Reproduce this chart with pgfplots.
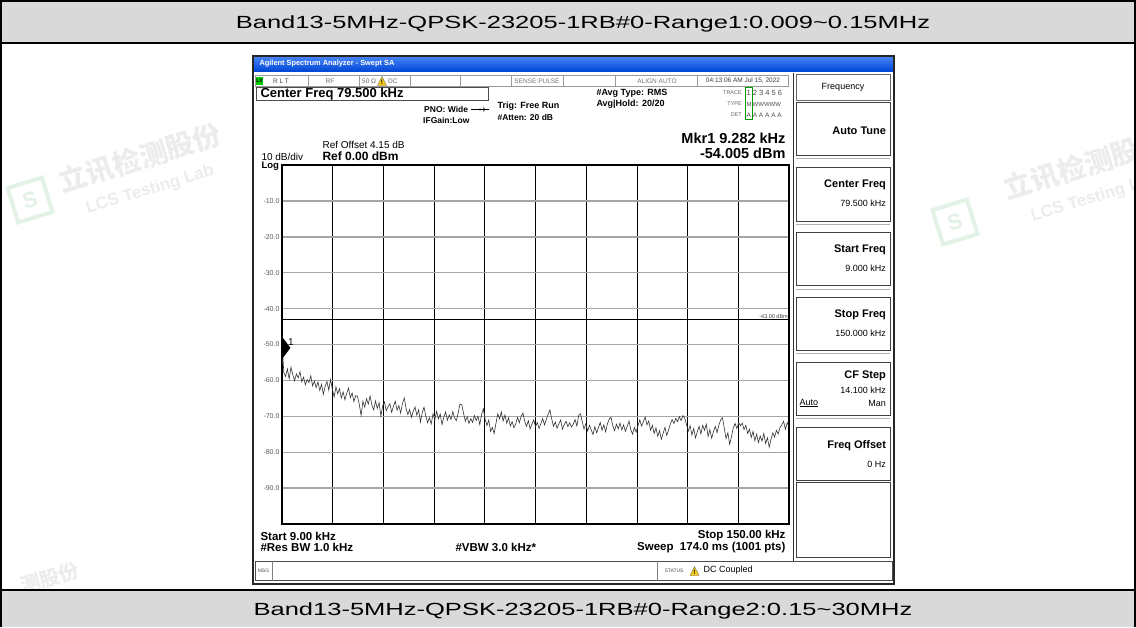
\documentclass[border=0pt]{standalone}
\usepackage{pgfplots}
\pgfplotsset{compat=1.18}
\usepackage{fontspec}
\setmainfont{Liberation Sans}
\newfontfamily\cjk{Noto Sans CJK SC}
\definecolor{hdr}{RGB}{217,217,217}
\definecolor{xpblueA}{RGB}{70,130,245}
\definecolor{xpblueB}{RGB}{0,72,215}
\definecolor{gridgray}{RGB}{165,165,165}
\definecolor{wm}{RGB}{236,236,236}
\definecolor{wmg}{RGB}{226,242,231}
\definecolor{warn}{RGB}{250,205,20}
\newcommand{\fs}[1]{\fontsize{#1}{#1}\selectfont}
\newcommand{\warntri}[2]{\fill[warn,draw=black!60,line width=0.3pt] (#1,#2) -- ++(4.5,-9) -- ++(4.5,9) -- cycle; \node[font=\bfseries\fs{6.5}] at (#1+4.5,#2-3.5) {!};}

\begin{document}
\begin{tikzpicture}
\begin{scope}[x=1pt,y=-1pt]
\path[use as bounding box] (0,0) rectangle (1136,627);
% ---------- table ----------
\fill[hdr] (0,0) rectangle (1136,43);
\fill[hdr] (0,590) rectangle (1136,627);
% ---------- watermarks ----------
\node[rotate=17,text=wm,font=\cjk\bfseries\fs{28}] at (140,158) {立讯检测股份};
\node[rotate=17,text=wm,font=\bfseries\fs{17}] at (150,190) {LCS Testing Lab};
\draw[wmg,line width=4pt,rotate around={17:(30,200)}] (12,182) rectangle (48,218);
\node[rotate=17,text=wmg,font=\bfseries\fs{22}] at (30,200) {S};
\node[rotate=17,text=wm,font=\cjk\bfseries\fs{28}] at (1085,165) {立讯检测股份};
\node[rotate=17,text=wm,font=\bfseries\fs{17}] at (1095,198) {LCS Testing Lab};
\draw[wmg,line width=4pt,rotate around={17:(955,222)}] (937,204) rectangle (973,240);
\node[rotate=17,text=wmg,font=\bfseries\fs{22}] at (955,222) {S};
\node[rotate=17,text=wm,font=\cjk\bfseries\fs{20}] at (50,578) {测股份};
\fill[hdr] (0,590) rectangle (1136,627);
\draw[line width=2pt] (1,627) -- (1,1) -- (1135,1) -- (1135,627);
\draw[line width=1.5pt] (0,43) -- (1136,43);
\draw[line width=1.5pt] (0,590) -- (1136,590);
\node[anchor=base] at (583,28.5) {\scalebox{1.45}[1]{\fs{17.6}Band13-5MHz-QPSK-23205-1RB\#0-Range1:0.009\textasciitilde0.15MHz}};
\node[anchor=base] at (583,615.5) {\scalebox{1.45}[1]{\fs{17.6}Band13-5MHz-QPSK-23205-1RB\#0-Range2:0.15\textasciitilde30MHz}};
% ---------- analyser window ----------
\fill[white] (253,56) rectangle (894,584);
\shade[top color=xpblueA,bottom color=xpblueB] (254,57) rectangle (893,71);
\node[anchor=west,text=white,font=\bfseries\fs{7.4}] at (256,64) {Agilent Spectrum Analyzer - Swept SA};
% status row
\draw[black!40,line width=0.5pt] (255,75.5) rectangle (788,86.5);
\foreach \xx in {308,359,410,460,511,563,615,697} {\draw[black!40,line width=0.5pt] (\xx,75.5) -- (\xx,86.5);}
\fill[green!80!black] (256,77) rectangle (263,85);
\node[font=\bfseries\fs{5}] at (259.5,81) {LX};
\node[font=\fs{6.5},text=black!75] at (281,81) {R L T};
\node[font=\fs{6.5},text=black!60] at (330,81) {RF};
\node[font=\fs{6.5},text=black!60,anchor=west,inner sep=0pt] at (362,81) {50 Ω};
\warntri{377.5}{85.5}
\node[font=\fs{6.5},text=black!60,anchor=west,inner sep=0pt] at (388,81) {DC};
\node[font=\fs{6.5},text=black!55] at (537,81) {SENSE:PULSE};
\node[font=\fs{6.5},text=black!55] at (657,81) {ALIGN AUTO};
\node[font=\fs{6.5},text=black!75] at (743,81) {04:13:06 AM Jul 15, 2022};
% center freq box
\draw[black!70,line width=0.6pt] (256,87.5) rectangle (488,100.5);
\node[anchor=west,font=\bfseries\fs{13}] at (257,94.5) {Center Freq 79.500 kHz};
\node[anchor=west,font=\bfseries\fs{8.5},inner sep=0pt] at (424,109.5) {PNO: Wide};
\draw[line width=0.6pt] (471,109.5) -- (489,109.5); \fill (480,109.5) circle (1.2); \draw[line width=0.6pt] (483,107.5) -- (485,109.5) -- (483,111.5);
\node[anchor=west,font=\bfseries\fs{8.5},inner sep=0pt] at (423,120) {IFGain:Low};
\node[anchor=west,font=\bfseries\fs{9}] at (494,106) {Trig: Free Run};
\node[anchor=west,font=\bfseries\fs{8.5}] at (494,117.5) {\#Atten: 20 dB};
\node[anchor=west,font=\bfseries\fs{9}] at (593,93.5) {\#Avg Type: RMS};
\node[anchor=west,font=\bfseries\fs{9}] at (593,104) {Avg|Hold: 20/20};
\node[anchor=east,font=\fs{5.5},text=black!60,inner sep=1pt] at (743,93) {TRACE};
\node[anchor=east,font=\fs{5.5},text=black!60,inner sep=1pt] at (743,104) {TYPE};
\node[anchor=east,font=\fs{5.5},text=black!60,inner sep=1pt] at (743,115) {DET};
\draw[green!60!black,line width=0.5pt] (745,87.5) rectangle (752.5,119);
\node[anchor=west,font=\fs{7.5},text=black!70,inner sep=0pt] at (746.5,93) {1 2 3 4 5 6};
\node[anchor=west,font=\fs{6},text=black!70,inner sep=0pt] at (746.5,104) {M\,WWWWW};
\node[anchor=west,font=\fs{6.5},text=black!70,inner sep=0pt] at (746.5,115) {A A A A A A};
\node[anchor=west,font=\fs{10}] at (319,144.5) {Ref Offset 4.15 dB};
\node[anchor=base west,font=\bfseries\fs{12}] at (319,160.5) {Ref 0.00 dBm};
\node[anchor=base west,font=\fs{10}] at (258,160.5) {10 dB/div};
\node[anchor=base west,font=\bfseries\fs{9.5}] at (258,168.5) {Log};
\node[anchor=east,font=\bfseries\fs{14.5}] at (789,138) {Mkr1 9.282 kHz};
\node[anchor=east,font=\bfseries\fs{14.5}] at (789,153.5) {-54.005 dBm};
% bottom texts
\node[anchor=west,font=\bfseries\fs{11.5}] at (257,536) {Start 9.00 kHz};
\node[anchor=west,font=\bfseries\fs{11.5}] at (257,547.5) {\#Res BW 1.0 kHz};
\node[anchor=west,font=\bfseries\fs{11.5}] at (452,547.5) {\#VBW 3.0 kHz*};
\node[anchor=east,font=\bfseries\fs{11.5}] at (789,536) {Stop 150.00 kHz};
\node[anchor=east,font=\bfseries\fs{11.5}] at (789,547.5) {Sweep\ \ 174.0 ms (1001 pts)};
% msg row
\draw[black!70,line width=0.7pt] (255,561) rectangle (892,580.5);
\draw[black!50,line width=0.5pt] (272,561) -- (272,580.5);
\draw[black!50,line width=0.5pt] (657,561) -- (657,580.5);
\node[font=\fs{5},text=black!70] at (263.5,570.5) {MSG};
\node[font=\fs{5},text=black!70] at (674,570.5) {STATUS};
\warntri{690}{575.5}
\node[anchor=west,font=\fs{9}] at (700,570.5) {DC Coupled};
% right soft-key panel
\draw[black!80,line width=1pt] (793.5,73) -- (793.5,561);
\draw[black!60,line width=0.7pt] (796,74) rectangle (890,100);
\node[font=\fs{9}] at (843,87) {Frequency};
\foreach \ya/\yb in {102/155,167/221,232/285,297/350,362/415,427/480,482/557} {
  \draw[black!75,line width=0.8pt] (796,\ya) rectangle (890,\yb);
}
\foreach \yy in {158,224,289,353,418} {\draw[black!30,line width=0.5pt] (796,\yy) -- (890,\yy);}
\node[anchor=east,font=\bfseries\fs{11}] at (889.5,131) {Auto Tune};
\node[anchor=east,font=\bfseries\fs{11}] at (889.5,185) {Center Freq};
\node[anchor=east,font=\fs{9}] at (889.5,203.5) {79.500 kHz};
\node[anchor=east,font=\bfseries\fs{11}] at (889.5,250) {Start Freq};
\node[anchor=east,font=\fs{9}] at (889.5,268.5) {9.000 kHz};
\node[anchor=east,font=\bfseries\fs{11}] at (889.5,315) {Stop Freq};
\node[anchor=east,font=\fs{9}] at (889.5,333.5) {150.000 kHz};
\node[anchor=east,font=\bfseries\fs{11}] at (889.5,376) {CF Step};
\node[anchor=east,font=\fs{9}] at (889.5,390) {14.100 kHz};
\node[anchor=west,font=\fs{9}] at (796,403) {\underline{Auto}};
\node[anchor=east,font=\fs{9}] at (889.5,403) {Man};
\node[anchor=east,font=\bfseries\fs{11}] at (889.5,446) {Freq Offset};
\node[anchor=east,font=\fs{9}] at (889.5,464.5) {0 Hz};
% window frame
\draw[black!85,line width=2.5pt] (253,56) rectangle (894,584);
\end{scope}

\begin{axis}[
  at={(282pt,-524pt)}, anchor=south west,
  width=507pt, height=359pt, scale only axis,
  xmin=9, xmax=150, ymin=-100, ymax=0,
  xtick={9,23.1,37.2,51.3,65.4,79.5,93.6,107.7,121.8,135.9,150},
  xticklabels={},
  ytick={-100,-90,-80,-70,-60,-50,-40,-30,-20,-10,0},
  yticklabels={,-90.0,-80.0,-70.0,-60.0,-50.0,-40.0,-30.0,-20.0,-10.0,},
  /pgf/number format/assume math mode=true,
  yticklabel style={font=\fs{7}, text=black!65, xshift=1pt},
  grid=major,
  major x grid style={black, line width=0.7pt},
  major y grid style={gridgray, line width=1.4pt},
  major tick length=0pt,
  axis line style={black, line width=1.6pt},
  clip marker paths=true,
]
\addplot[black, line width=0.6pt, forget plot] coordinates {(9,-43) (150,-43)};
\addplot[black!80, line width=0.6pt, mark=none] coordinates {
(9,-55.5)(9.282,-54.0)(9.5,-57.8)(10,-58.9)(10.5,-56.8)(11,-59.6)(11.5,-56.3)(12,-58.4)(12.5,-60.1)(13,-58.2)(13.5,-59.3)(14,-57.6)(14.5,-60.4)(15,-59.1)(15.5,-61.2)(16,-59.8)(16.5,-60.6)(17,-58.7)(17.5,-61.5)(18,-60.2)(18.5,-62.0)
(19,-60.4)(19.5,-62.8)(20,-61.1)(20.5,-63.9)(21,-61.6)(21.5,-60.3)(22,-62.7)(22.5,-59.8)(23,-62.4)(23.5,-64.6)(24,-61.8)(24.5,-63.7)(25,-62.3)(25.5,-64.9)(26,-63.2)(26.5,-65.4)(27,-63.6)(27.5,-62.1)(28,-64.8)(28.5,-63.5)
(29,-65.9)(29.5,-64.2)(30,-64.5)(30.5,-66.7)(31,-69.8)(31.5,-65.8)(32,-67.4)(32.5,-65.1)(33,-66.6)(33.5,-64.3)(34,-66.9)(34.5,-68.2)(35,-65.7)(35.5,-67.8)(36,-66.2)(36.5,-69.9)(37,-67.1)(37.5,-66.0)(38,-68.4)(38.5,-67.3)
(39,-66.5)(39.5,-68.9)(40,-67.2)(40.5,-65.8)(41,-68.3)(41.5,-67.0)(42,-69.1)(42.5,-66.4)(43,-64.9)(43.5,-67.8)(44,-69.5)(44.5,-68.1)(45,-70.3)(45.5,-68.6)(46,-67.4)(46.5,-69.7)(47,-68.2)(47.5,-71.6)(48,-69.0)(48.5,-67.5)
(49,-69.9)(49.5,-71.8)(50,-70.4)(50.5,-72.1)(51,-69.3)(51.5,-71.0)(52,-68.6)(52.5,-70.7)(53,-69.4)(53.5,-72.3)(54,-70.2)(54.5,-68.8)(55,-71.1)(55.5,-69.6)(56,-70.9)(56.5,-68.7)(57,-70.5)(57.5,-71.2)(58,-69.0)(58.5,-66.6)
(59,-66.8)(59.5,-69.2)(60,-71.4)(60.5,-70.1)(61,-72.0)(61.5,-70.6)(62,-71.7)(62.5,-69.8)(63,-71.2)(63.5,-70.0)(64,-72.3)(64.5,-69.5)(65,-67.9)(65.5,-70.8)(66,-72.6)(66.5,-71.0)(67,-74.2)(67.5,-73.1)(68,-74.8)(68.5,-72.0)
(69,-69.3)(69.5,-70.7)(70,-68.8)(70.5,-71.3)(71,-69.6)(71.5,-71.9)(72,-70.4)(72.5,-72.7)(73,-71.5)(73.5,-73.2)(74,-72.1)(74.5,-70.3)(75,-71.8)(75.5,-70.0)(76,-69.1)(76.5,-71.4)(77,-72.8)(77.5,-71.2)(78,-73.5)(78.5,-72.2)
(79,-71.0)(79.5,-72.9)(80,-71.7)(80.5,-73.4)(81,-72.0)(81.5,-70.6)(82,-72.4)(82.5,-70.9)(83,-69.5)(83.5,-68.2)(84,-70.7)(84.5,-72.8)(85,-71.6)(85.5,-73.3)(86,-72.1)(86.5,-71.0)(87,-73.6)(87.5,-72.3)(88,-71.4)(88.5,-72.9)
(89,-71.8)(89.5,-73.0)(90,-72.2)(90.5,-70.9)(91,-72.7)(91.5,-69.8)(92,-69.3)(92.5,-71.5)(93,-73.6)(93.5,-72.0)(94,-74.1)(94.5,-72.5)(95,-73.8)(95.5,-75.1)(96,-72.9)(96.5,-74.6)(97,-73.2)(97.5,-71.7)(98,-73.9)(98.5,-72.4)
(99,-74.3)(99.5,-72.1)(100,-70.8)(100.5,-70.3)(101,-72.6)(101.5,-74.0)(102,-72.2)(102.5,-73.5)(103,-71.9)(103.5,-73.8)(104,-72.4)(104.5,-74.2)(105,-72.8)(105.5,-71.3)(106,-73.7)(106.5,-75.0)(107,-73.1)(107.5,-74.4)(108,-72.6)(108.5,-71.0)
(109,-72.7)(109.5,-71.5)(110,-70.2)(110.5,-72.4)(111,-71.3)(111.5,-73.9)(112,-72.5)(112.5,-74.8)(113,-73.2)(113.5,-75.6)(114,-74.0)(114.5,-76.4)(115,-74.7)(115.5,-73.1)(116,-75.3)(116.5,-73.8)(117,-72.2)(117.5,-70.9)(118,-72.0)(118.5,-70.6)
(119,-71.5)(119.5,-70.1)(120,-71.2)(120.5,-69.8)(121,-70.5)(121.5,-72.3)(122,-74.1)(122.5,-72.6)(123,-75.2)(123.5,-73.4)(124,-76.0)(124.5,-74.3)(125,-72.8)(125.5,-74.9)(126,-72.5)(126.5,-73.9)(127,-72.2)(127.5,-75.6)(128,-73.7)(128.5,-76.1)
(129,-74.2)(129.5,-72.8)(130,-74.5)(130.5,-72.4)(131,-71.0)(131.5,-70.4)(132,-73.3)(132.5,-76.2)(133,-74.6)(133.5,-77.8)(134,-75.7)(134.5,-73.2)(135,-72.0)(135.5,-73.4)(136,-71.8)(136.5,-72.6)(137,-71.9)(137.5,-73.7)(138,-72.5)(138.5,-74.8)
(139,-73.6)(139.5,-75.9)(140,-74.2)(140.5,-76.8)(141,-75.0)(141.5,-77.3)(142,-75.5)(142.5,-76.9)(143,-74.8)(143.5,-77.6)(144,-76.0)(144.5,-78.6)(145,-76.4)(145.5,-74.6)(146,-75.8)(146.5,-73.9)(147,-74.9)(147.5,-73.1)(148,-72.4)(148.5,-71.4)(149,-73.6)(149.5,-71.8)(150,-72.9)
};
\addplot[only marks, mark=diamond*, mark size=9.5pt, mark options={black, yshift=11pt}] coordinates {(9.282,-54.005)};
\node[font=\fs{10}] at (axis cs:9.282,-54.005) [xshift=8pt, yshift=17pt] {1};
\node[anchor=south east, font=\fs{5.5}, text=black!75, inner sep=1pt] at (axis cs:150,-43) {-43.00 dBm};
\end{axis}
\end{tikzpicture}
\end{document}
